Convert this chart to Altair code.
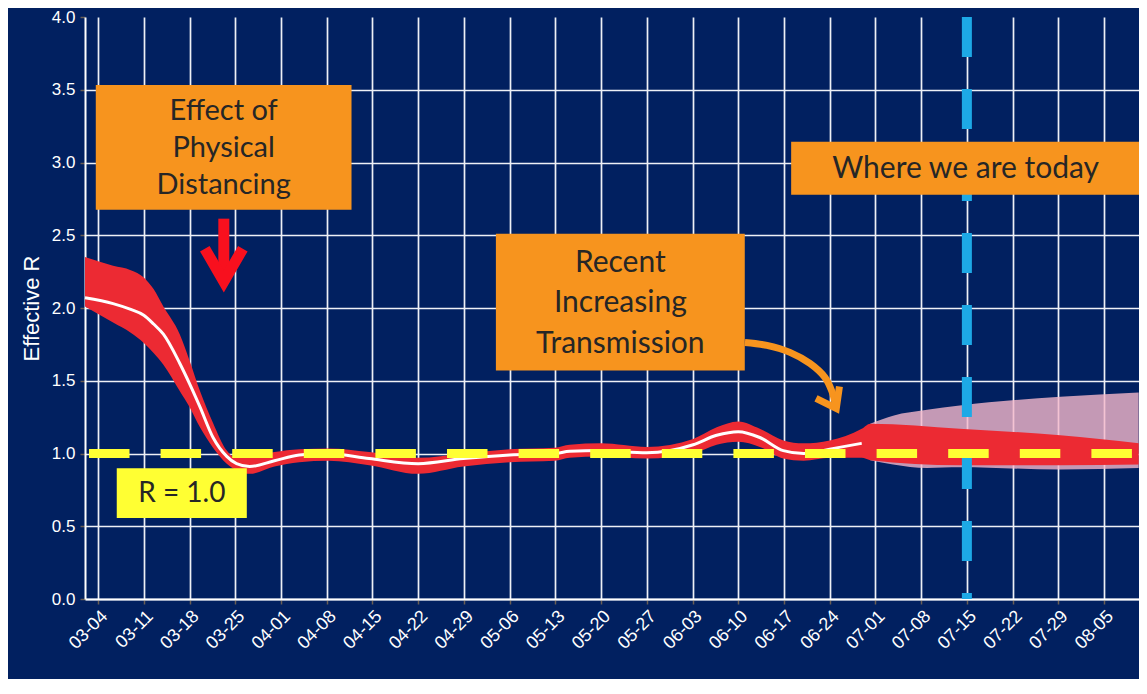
import altair as alt
import pandas as pd

BASE = pd.Timestamp("2020-03-04")

# ---- central estimate (days after 2020-03-04) ----
est_day = [-2.0, 2.3, 5.0, 7.0, 8.5, 10.0, 12.5, 14.0, 15.6, 17.6, 19.7, 21.2, 23.2, 27.0, 30.8,
           35.3, 41.5, 49.0, 55.9, 63.0, 69.9, 72.2, 77.0, 84.0, 91.1, 94.7, 98.0, 101.3,
           104.9, 108.0, 112.0, 116.9]
est_mid = [2.07, 2.03, 1.99, 1.95, 1.89, 1.82, 1.62, 1.48, 1.32, 1.11, 0.98, 0.93, 0.91, 0.95,
           0.99, 1.0, 0.965, 0.93, 0.965, 0.99, 1.0, 1.015, 1.02, 1.005, 1.06, 1.125, 1.15,
           1.11, 1.02, 1.0, 1.03, 1.07]
est_lo = [2.01, 1.90, 1.83, 1.76, 1.69, 1.61, 1.43, 1.32, 1.18, 1.04, 0.93, 0.885, 0.86, 0.91,
          0.94, 0.95, 0.92, 0.86, 0.91, 0.94, 0.95, 0.97, 0.98, 0.965, 1.0, 1.06, 1.08, 1.045,
          0.965, 0.95, 0.97, 0.97]
est_hi = [2.35, 2.29, 2.26, 2.21, 2.13, 2.01, 1.82, 1.64, 1.43, 1.21, 1.02, 0.97, 0.975, 1.01,
          1.03, 1.035, 1.01, 0.97, 1.0, 1.03, 1.04, 1.06, 1.07, 1.045, 1.10, 1.18, 1.22, 1.17,
          1.09, 1.07, 1.09, 1.17]

# ---- forecast ----
fc_day = [118.2, 131.9, 147.3, 159.3]
fc_red_lo = [0.954, 0.92, 0.92, 0.925]
fc_red_hi = [1.205, 1.17, 1.125, 1.07]
fc_pink_day = [118.2, 121.7, 126.9, 131.9, 147.3, 159.3]
fc_pink_lo = [0.954, 0.925, 0.90, 0.905, 0.89, 0.90]
fc_pink_hi = [1.205, 1.26, 1.30, 1.33, 1.39, 1.42]

# ---- reference lines ----
r_threshold = [1.0]
today_day = [133]

# ---- axis ticks ----
week_offsets = list(range(0, 155, 7))
y_ticks = [0.0, 0.5, 1.0, 1.5, 2.0, 2.5, 3.0, 3.5, 4.0]

# ---- annotations ----
box_text = ["Effect of\nPhysical\nDistancing", "Recent\nIncreasing\nTransmission",
            "Where we are today", "R = 1.0"]
box_x1 = [-0.35, 60.9, 106.1, 2.86]
box_x2 = [38.8, 99.0, 159.5, 22.77]
box_top = [3.533, 2.511, 3.142, 0.899]
box_bot = [2.676, 1.571, 2.779, 0.556]
box_fill = ["#F7941E", "#F7941E", "#F7941E", "#FFFF33"]
box_line_height = [37, 40.5, 37, 37]
box_font_size = [29, 30, 30, 28]

red_shaft_day = [19.25]
red_shaft_top = [2.614]
red_shaft_bot = [2.175]
red_head_day = [16.34, 19.25, 22.16]
red_head_r = [2.408, 2.182, 2.408]

orange_curve_day = [99.02, 102.39, 105.91, 108.97, 111.27, 112.34, 112.95]
orange_curve_r = [1.763, 1.743, 1.695, 1.619, 1.523, 1.427, 1.324]
orange_head_day = [109.9, 113.01, 113.49]
orange_head_r = [1.379, 1.310, 1.461]

NAVY = "#012060"
RED = "#EC2A33"
WHITE = "#FFFFFF"
YELLOW = "#FFFF33"
BLUE = "#1DA9E6"
ORANGE = "#F7941E"
ARROW_RED = "#F8101E"
GRID = "#EEF0F6"
FONT = "Liberation Sans"
PLOT_H = 582
PX_PER_R = PLOT_H / 4.0


def T(days):
    return [BASE + pd.Timedelta(days=float(d)) for d in days]


def DT(ts):
    return alt.DateTime(year=ts.year, month=ts.month, date=ts.day, hours=ts.hour, minutes=ts.minute)


xscale = alt.Scale(domain=[DT(T([-2.0])[0]), DT(T([159.35])[0])])
yscale = alt.Scale(domain=[0, 4], nice=False, zero=False)

xaxis = alt.Axis(
    values=[DT(t) for t in T(week_offsets)], format="%m-%d", labelAngle=-45,
    labelFont=FONT, labelFontSize=18, labelColor=WHITE, labelOverlap=False, labelFlush=False,
    labelPadding=3, grid=True, gridColor=GRID, gridWidth=1.7,
    domainColor=WHITE, domainWidth=2, tickColor="#6A5E55", tickSize=5, tickWidth=1.5, title=None,
)
yaxis = alt.Axis(
    values=y_ticks, format=".1f", labelFont=FONT, labelFontSize=17, labelColor=WHITE,
    labelFlush=False, labelPadding=5, grid=True, gridColor=GRID, gridWidth=1.7,
    gridOpacity={"condition": {"test": "datum.value >= 4", "value": 0}, "value": 1},
    domainColor=WHITE, domainWidth=2, tickColor="#6A5E55", tickSize=5, tickWidth=1.5,
    title="Effective R", titleFont=FONT, titleFontSize=22, titleFontWeight="normal",
    titleColor=WHITE, titlePadding=8,
)


def X(f):
    return alt.X(f, type="temporal", scale=xscale, axis=xaxis)


def Y(f):
    return alt.Y(f, type="quantitative", scale=yscale, axis=yaxis)


pink_df = pd.DataFrame({"date": T(fc_pink_day), "lo": fc_pink_lo, "hi": fc_pink_hi})
band_df = pd.DataFrame({"date": T(est_day + fc_day), "lo": est_lo + fc_red_lo,
                        "hi": est_hi + fc_red_hi})
mid_df = pd.DataFrame({"date": T(est_day), "lo": est_mid})

pink = alt.Chart(pink_df).mark_area(color="#F5B8CA", opacity=0.8, interpolate="monotone").encode(
    x=X("date"), y=Y("lo"), y2=alt.Y2("hi"))
band = alt.Chart(band_df).mark_area(color=RED, interpolate="monotone").encode(
    x=X("date"), y=Y("lo"), y2=alt.Y2("hi"))
mid = alt.Chart(mid_df).mark_line(color=WHITE, strokeWidth=3, interpolate="monotone").encode(
    x=X("date"), y=Y("lo"))

blue = alt.Chart(pd.DataFrame({"date": T(today_day), "lo": [4.0], "hi": [0.0]})).mark_rule(
    color=BLUE, strokeWidth=10, strokeDash=[40, 32]).encode(
    x=X("date"), y=Y("lo"), y2=alt.Y2("hi"))
yellow = alt.Chart(pd.DataFrame({"lo": r_threshold})).mark_rule(
    color=YELLOW, strokeWidth=9, strokeDash=[40.5, 31.1], strokeDashOffset=64.5).encode(y=Y("lo"))

shaft = alt.Chart(pd.DataFrame({"date": T(red_shaft_day), "lo": red_shaft_top,
                                "hi": red_shaft_bot})).mark_rule(
    color=ARROW_RED, strokeWidth=11).encode(x=X("date"), y=Y("lo"), y2=alt.Y2("hi"))
head = alt.Chart(pd.DataFrame({"date": T(red_head_day), "lo": red_head_r,
                               "i": list(range(len(red_head_day)))})).mark_line(
    color=ARROW_RED, strokeWidth=11, strokeJoin="miter", strokeCap="butt").encode(
    x=X("date"), y=Y("lo"), order="i:Q")

ocurve = alt.Chart(pd.DataFrame({"date": T(orange_curve_day), "lo": orange_curve_r,
                                 "i": list(range(len(orange_curve_day)))})).mark_line(
    color=ORANGE, strokeWidth=7, interpolate="catmull-rom", strokeCap="butt").encode(
    x=X("date"), y=Y("lo"), order="i:Q")
ohead = alt.Chart(pd.DataFrame({"date": T(orange_head_day), "lo": orange_head_r,
                                "i": list(range(len(orange_head_day)))})).mark_line(
    color=ORANGE, strokeWidth=7, strokeJoin="miter", strokeCap="butt").encode(
    x=X("date"), y=Y("lo"), order="i:Q")

box_df = pd.DataFrame({"date": T(box_x1), "date2": T(box_x2), "lo": box_top,
                       "hi": box_bot, "fill": box_fill})
boxes = alt.Chart(box_df).mark_rect().encode(
    x=X("date"), x2=alt.X2("date2"), y=Y("lo"), y2=alt.Y2("hi"),
    color=alt.Color("fill:N", scale=None))

texts = []
for i, label in enumerate(box_text):
    n_lines = label.count("\n") + 1
    cx = (box_x1[i] + box_x2[i]) / 2
    cy = (box_top[i] + box_bot[i]) / 2 + (n_lines - 1) / 2 * box_line_height[i] / PX_PER_R
    tdf = pd.DataFrame({"date": T([cx]), "lo": [cy], "label": [label]})
    texts.append(alt.Chart(tdf).mark_text(
        font="Lato", fontSize=box_font_size[i], color="#262626", align="center",
        baseline="middle", lineBreak="\n", lineHeight=box_line_height[i], dy=1).encode(
        x=X("date"), y=Y("lo"), text="label:N"))

chart = alt.layer(pink, band, mid, blue, yellow, shaft, head, ocurve, ohead, boxes, *texts).properties(
    width=1054, height=PLOT_H,
    padding={"left": 77, "top": 9, "right": 0, "bottom": 80},
    autosize=alt.AutoSizeParams(type="none"),
    background=NAVY,
).configure_view(stroke=None)

chart.save("out.html", embed_options={"renderer": "svg", "actions": False})
